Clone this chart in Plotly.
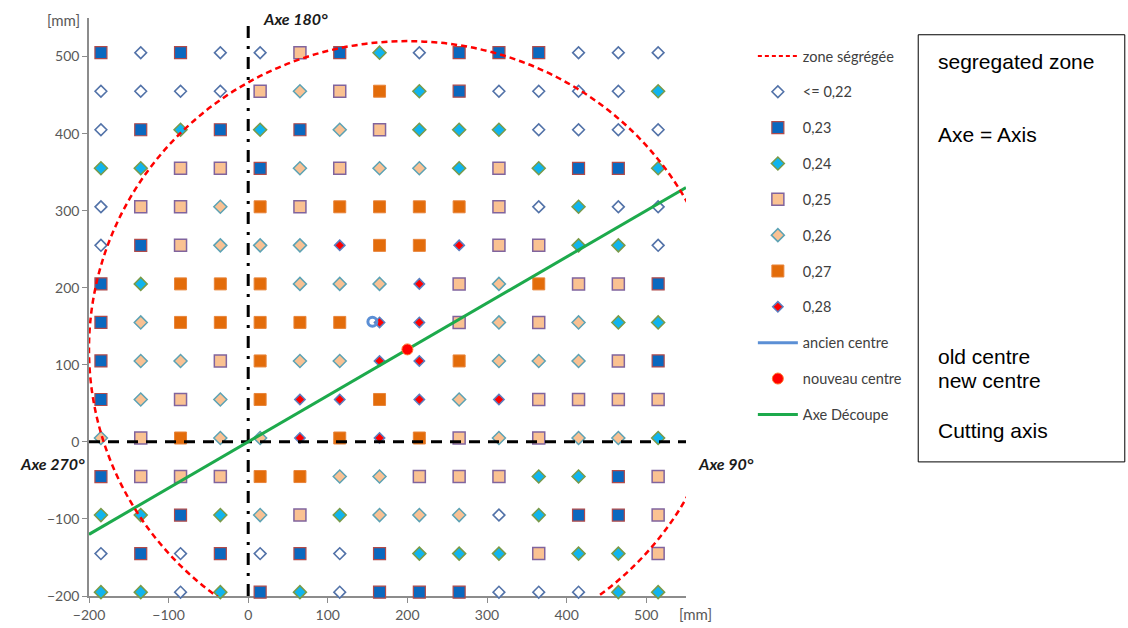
import plotly.graph_objects as go

# ---------------- data ----------------
x_cols = [-185, -135, -85, -35, 15, 65, 115, 165, 215, 265, 315, 365, 415, 465, 515]
y_rows = [505, 455, 405, 355, 305, 255, 205, 155, 105, 55, 5, -45, -95, -145, -195]
# codes: A <=0,22  B 0,23  C 0,24  D 0,25  E 0,26  F 0,27  G 0,28
grid_rows = [
    "BABAADBCABBBAAA",
    "AAAADEDFCBAAAAC",
    "ABCBCBEDCCCAAAA",
    "CCDDBEDEECDCBBC",
    "ADDEFDFFFFDACAA",
    "ABDEEEGFFGDDCCA",
    "BCFFFEEEGDEFDDB",
    "BEFFFFFGGDEDECC",
    "BEEDFEEGGFEEEDB",
    "BEDEFGGFGEGDDDD",
    "EDFEEGFGFDEDEEC",
    "BDDDFFEEDDDCCBD",
    "CCBCEDCEEEACBBD",
    "ABABABABCCCDCCD",
    "CCACBCABBBAAACC",
]
codes = ["A", "B", "C", "D", "E", "F", "G"]
labels = ["<= 0,22", "0,23", "0,24", "0,25", "0,26", "0,27", "0,28"]

old_centre = ([156], [156])
new_centre = ([200], [120])
circle_radius = 400
cut_x = [-200, 550]
cut_y = [-120, 330]
axe180_x, axe180_y = [0, 0], [-200, 550]
axe270_x, axe270_y = [-200, 550], [0, 0]

# ---------------- styles ----------------
styles = {
    "A": dict(symbol="diamond", size=9, color="white", line=dict(color="#5272A8", width=1.6)),
    "B": dict(symbol="square", size=12, color="#0A68BF", line=dict(color="#B04A4A", width=1.2)),
    "C": dict(symbol="diamond", size=10, color="#10B4EE", line=dict(color="#7A9A48", width=1.5)),
    "D": dict(symbol="square", size=12, color="#FAC292", line=dict(color="#80649E", width=1.5)),
    "E": dict(symbol="diamond", size=10, color="#F9C193", line=dict(color="#5CA2B4", width=1.5)),
    "F": dict(symbol="square", size=12, color="#E36C0A", line=dict(color="#E8843A", width=1)),
    "G": dict(symbol="diamond", size=8, color="#FF0000", line=dict(color="#5B7FC0", width=1.5)),
}

fig = go.Figure()

# legend entry for the segregated zone (shape drawn below)
fig.add_trace(go.Scatter(x=new_centre[0], y=new_centre[1], mode="lines",
                         line=dict(color="#FF0000", width=2, dash="4px,3px"),
                         name="zone ségrégée", legendgroup="z", hoverinfo="skip"))

for code, lab in zip(codes, labels):
    xs, ys = [], []
    for yv, row in zip(y_rows, grid_rows):
        for xv, c in zip(x_cols, row):
            if c == code:
                xs.append(xv)
                ys.append(yv)
    fig.add_trace(go.Scatter(x=xs, y=ys, mode="markers", name=lab, legendgroup=code,
                             marker=styles[code], cliponaxis=False))

# axes lines
fig.add_trace(go.Scatter(x=axe180_x, y=axe180_y, mode="lines", showlegend=False,
                         line=dict(color="black", width=3, dash="12px,8px,3px,8px")))
fig.add_trace(go.Scatter(x=axe270_x, y=axe270_y, mode="lines", showlegend=False,
                         line=dict(color="black", width=3, dash="11px,8px")))

# old centre
fig.add_trace(go.Scatter(x=old_centre[0], y=old_centre[1], mode="lines", name="ancien centre",
                         legendgroup="old", line=dict(color="#5B8FD5", width=3)))
fig.add_trace(go.Scatter(x=old_centre[0], y=old_centre[1], mode="markers", showlegend=False,
                         legendgroup="old",
                         marker=dict(symbol="circle-open", size=9, color="#5B8FD5", line=dict(width=3))))

# cutting axis (drawn before new centre so centre is on top)
fig.add_trace(go.Scatter(x=cut_x, y=cut_y, mode="lines", name="Axe Découpe", legendgroup="cut",
                         legendrank=1002, line=dict(color="#1DAA4C", width=3)))
fig.add_trace(go.Scatter(x=new_centre[0], y=new_centre[1], mode="markers", name="nouveau centre",
                         legendgroup="new", legendrank=1001,
                         marker=dict(symbol="circle", size=11, color="#FF0000",
                                     line=dict(color="#FF7A30", width=1))))

# segregated zone circle
cx, cy = new_centre[0][0], new_centre[1][0]
fig.add_shape(type="circle", xref="x", yref="y",
              x0=cx - circle_radius, x1=cx + circle_radius,
              y0=cy - circle_radius, y1=cy + circle_radius,
              line=dict(color="#FF0000", width=2.5, dash="6px,4px"), layer="above")

# right text box
fig.add_shape(type="rect", xref="paper", yref="paper", x0=1.389, x1=1.735, y0=0.232, y1=0.971,
              line=dict(color="black", width=1))
box_texts = [("segregated zone", 0.924), ("Axe = Axis", 0.798), ("old centre", 0.415),
             ("new centre", 0.372), ("Cutting axis", 0.287)]
for t, yy in box_texts:
    fig.add_annotation(text=t, xref="paper", yref="paper", x=1.418, y=yy, xanchor="left",
                       yanchor="middle", showarrow=False,
                       font=dict(family="Liberation Sans, Arial", size=21, color="black"))

lab_font = dict(family="Lato, Open Sans", size=16, color="#1a1a1a")
fig.add_annotation(text="<b><i>Axe 180°</i></b>", xref="x", yref="paper", x=16, y=1.0,
                   xanchor="left", yanchor="middle", showarrow=False, font=lab_font)
fig.add_annotation(text="<b><i>Axe 270°</i></b>", xref="paper", yref="y", x=-0.004, y=-28,
                   xanchor="right", yanchor="middle", showarrow=False, font=lab_font)
fig.add_annotation(text="<b><i>Axe 90°</i></b>", xref="paper", yref="y", x=1.016, y=-28,
                   xanchor="left", yanchor="middle", showarrow=False, font=lab_font)
mm_font = dict(family="Lato, Open Sans", size=15, color="#595959")
fig.add_annotation(text="[mm]", xref="paper", yref="paper", x=-0.012, y=0.997,
                   xanchor="right", yanchor="middle", showarrow=False, font=mm_font)
fig.add_annotation(text="[mm]", xref="paper", yref="paper", x=0.985, y=-0.012,
                   xanchor="left", yanchor="top", showarrow=False, font=mm_font)

axis_common = dict(showgrid=False, zeroline=False, showline=True, linecolor="#8C8C8C",
                   linewidth=1.5, ticks="outside", ticklen=5, tickcolor="#8C8C8C",
                   tickfont=dict(family="Lato, Open Sans", size=14, color="#595959"),
                   dtick=100, layer="below traces", automargin=False)
fig.update_xaxes(range=[-200, 550], tick0=-200, **axis_common)
fig.update_yaxes(range=[-200, 550], tick0=-200, **axis_common)

fig.update_layout(
    width=1128, height=628,
    margin=dict(l=89, r=442, t=18, b=32),
    plot_bgcolor="white", paper_bgcolor="white",
    legend=dict(x=1.112, y=0.962, xanchor="left", yanchor="top", tracegroupgap=14,
                font=dict(family="Lato, Open Sans", size=14.5, color="#404040"),
                bgcolor="rgba(0,0,0,0)", itemwidth=40),
    showlegend=True,
)

fig.write_html("out.html", config={"displayModeBar": False},
               post_script="document.body.style.margin='0px';document.body.style.overflow='hidden';")
